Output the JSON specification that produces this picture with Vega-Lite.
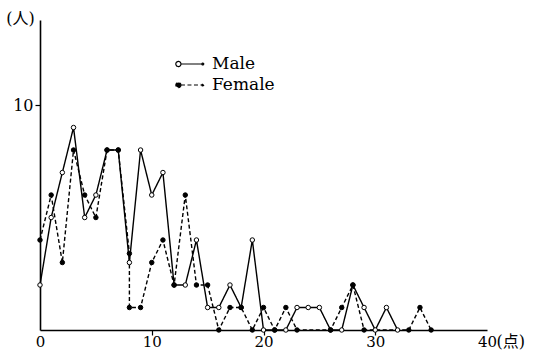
{
  "$schema": "https://vega.github.io/schema/vega-lite/v6.json",
  "width": 447,
  "height": 310,
  "autosize": "none",
  "padding": {"left": 40, "top": 20, "right": 46, "bottom": 31},
  "background": "white",
  "config": {
    "view": {"stroke": null},
    "font": "DejaVu Serif",
    "axis": {"labelFont": "DejaVu Serif, Noto Sans CJK JP", "titleFont": "DejaVu Serif, Noto Sans CJK JP", "labelColor": "black", "titleColor": "black", "domainColor": "black", "tickColor": "black", "grid": false}
  },
  "data": {
    "values": [
      {"sex": "Male", "score": 0, "n": 2, "i": 0},
      {"sex": "Male", "score": 1, "n": 5, "i": 1},
      {"sex": "Male", "score": 2, "n": 7, "i": 2},
      {"sex": "Male", "score": 3, "n": 9, "i": 3},
      {"sex": "Male", "score": 4, "n": 5, "i": 4},
      {"sex": "Male", "score": 5, "n": 6, "i": 5},
      {"sex": "Male", "score": 6, "n": 8, "i": 6},
      {"sex": "Male", "score": 7, "n": 8, "i": 7},
      {"sex": "Male", "score": 8, "n": 3, "i": 8},
      {"sex": "Male", "score": 9, "n": 8, "i": 9},
      {"sex": "Male", "score": 10, "n": 6, "i": 10},
      {"sex": "Male", "score": 11, "n": 7, "i": 11},
      {"sex": "Male", "score": 12, "n": 2, "i": 12},
      {"sex": "Male", "score": 13, "n": 2, "i": 13},
      {"sex": "Male", "score": 14, "n": 4, "i": 14},
      {"sex": "Male", "score": 15, "n": 1, "i": 15},
      {"sex": "Male", "score": 16, "n": 1, "i": 16},
      {"sex": "Male", "score": 17, "n": 2, "i": 17},
      {"sex": "Male", "score": 18, "n": 1, "i": 18},
      {"sex": "Male", "score": 19, "n": 4, "i": 19},
      {"sex": "Male", "score": 20, "n": 0, "i": 20},
      {"sex": "Male", "score": 21, "n": 0, "i": 21},
      {"sex": "Male", "score": 22, "n": 0, "i": 22},
      {"sex": "Male", "score": 23, "n": 1, "i": 23},
      {"sex": "Male", "score": 24, "n": 1, "i": 24},
      {"sex": "Male", "score": 25, "n": 1, "i": 25},
      {"sex": "Male", "score": 26, "n": 0, "i": 26},
      {"sex": "Male", "score": 27, "n": 0, "i": 27},
      {"sex": "Male", "score": 28, "n": 2, "i": 28},
      {"sex": "Male", "score": 29, "n": 1, "i": 29},
      {"sex": "Male", "score": 30, "n": 0, "i": 30},
      {"sex": "Male", "score": 31, "n": 1, "i": 31},
      {"sex": "Male", "score": 32, "n": 0, "i": 32},
      {"sex": "Female", "score": 0, "n": 4, "i": 0},
      {"sex": "Female", "score": 1, "n": 6, "i": 1},
      {"sex": "Female", "score": 2, "n": 3, "i": 2},
      {"sex": "Female", "score": 3, "n": 8, "i": 3},
      {"sex": "Female", "score": 4, "n": 6, "i": 4},
      {"sex": "Female", "score": 5, "n": 5, "i": 5},
      {"sex": "Female", "score": 6, "n": 8, "i": 6},
      {"sex": "Female", "score": 7, "n": 8, "i": 7},
      {"sex": "Female", "score": 8, "n": 3.4, "i": 8},
      {"sex": "Female", "score": 8, "n": 1, "i": 9},
      {"sex": "Female", "score": 9, "n": 1, "i": 10},
      {"sex": "Female", "score": 10, "n": 3, "i": 11},
      {"sex": "Female", "score": 11, "n": 4, "i": 12},
      {"sex": "Female", "score": 12, "n": 2, "i": 13},
      {"sex": "Female", "score": 13, "n": 6, "i": 14},
      {"sex": "Female", "score": 14, "n": 2, "i": 15},
      {"sex": "Female", "score": 15, "n": 2, "i": 16},
      {"sex": "Female", "score": 16, "n": 0, "i": 17},
      {"sex": "Female", "score": 17, "n": 1, "i": 18},
      {"sex": "Female", "score": 18, "n": 1, "i": 19},
      {"sex": "Female", "score": 19, "n": 0, "i": 20},
      {"sex": "Female", "score": 20, "n": 1, "i": 21},
      {"sex": "Female", "score": 21, "n": 0, "i": 22},
      {"sex": "Female", "score": 22, "n": 1, "i": 23},
      {"sex": "Female", "score": 23, "n": 0, "i": 24},
      {"sex": "Female", "score": 26, "n": 0, "i": 25},
      {"sex": "Female", "score": 27, "n": 1, "i": 26},
      {"sex": "Female", "score": 28, "n": 2, "i": 27},
      {"sex": "Female", "score": 29, "n": 0, "i": 28},
      {"sex": "Female", "score": 33, "n": 0, "i": 29},
      {"sex": "Female", "score": 34, "n": 1, "i": 30},
      {"sex": "Female", "score": 35, "n": 0, "i": 31}
    ]
  },
  "encoding": {
    "x": {
      "field": "score", "type": "quantitative",
      "scale": {"domain": [0, 40], "nice": false, "zero": false},
      "axis": {
        "title": "(点)",
        "titleX": 456,
        "titleY": 3,
        "titleAlign": "left",
        "titleBaseline": "top",
        "titleFontSize": 16,
        "titleFontWeight": "normal",
        "values": [0, 10, 20, 30, 40],
        "tickColor": {"condition": {"test": "datum.value == 0 || datum.value == 40", "value": "transparent"}, "value": "black"},
        "tickSize": 5,
        "tickWidth": 1.2,
        "domainWidth": 1.6,
        "labelFontSize": 15,
        "labelPadding": -1,
        "labelFlush": false
      }
    },
    "y": {
      "field": "n", "type": "quantitative",
      "scale": {"domain": [0, 13.78], "nice": false},
      "axis": {
        "title": "(人)",
        "titleAngle": 0,
        "titleX": -20,
        "titleY": -2,
        "titleAlign": "center",
        "titleBaseline": "middle",
        "titleFontSize": 16,
        "titleFontWeight": "normal",
        "values": [10],
        "tickSize": 5,
        "tickWidth": 1.2,
        "domainWidth": 1.6,
        "labelFontSize": 16,
        "labelPadding": 2
      }
    }
  },
  "layer": [
    {
      "mark": {"type": "line", "color": "black", "strokeWidth": 1.4},
      "encoding": {
        "detail": {"field": "sex"},
        "order": {"field": "i", "type": "quantitative"},
        "strokeDash": {
          "field": "sex", "type": "nominal",
          "scale": {"domain": ["Male", "Female"], "range": [[1, 0], [4, 2.5]]},
          "legend": {
            "title": null,
            "orient": "none",
            "legendX": 141,
            "legendY": 35,
            "padding": 0,
            "rowPadding": 4,
            "symbolType": "M-1.13,0A0.32,0.32,0,1,1,-1.77,0A0.32,0.32,0,1,1,-1.13,0ZM-1.13,0L1.6,0M1.72,0A0.12,0.12,0,1,1,1.48,0A0.12,0.12,0,1,1,1.72,0Z",
            "symbolSize": 256,
            "symbolStrokeColor": "black",
            "symbolStrokeWidth": 1.2,
            "labelFont": "DejaVu Serif",
            "labelFontSize": 17,
            "labelColor": "black",
            "labelOffset": 13,
            "encode": {"symbols": {"update": {"fill": {"signal": "datum.value === 'Male' ? '#ffffff' : '#000000'"}, "stroke": {"value": "black"}}}}
          }
        }
      }
    },
    {
      "mark": {"type": "point", "shape": "circle", "filled": true, "stroke": "black", "strokeWidth": 1, "size": 20, "opacity": 1},
      "encoding": {
        "fill": {
          "field": "sex", "type": "nominal",
          "scale": {"domain": ["Male", "Female"], "range": ["white", "black"]},
          "legend": null
        }
      }
    }
  ]
}
